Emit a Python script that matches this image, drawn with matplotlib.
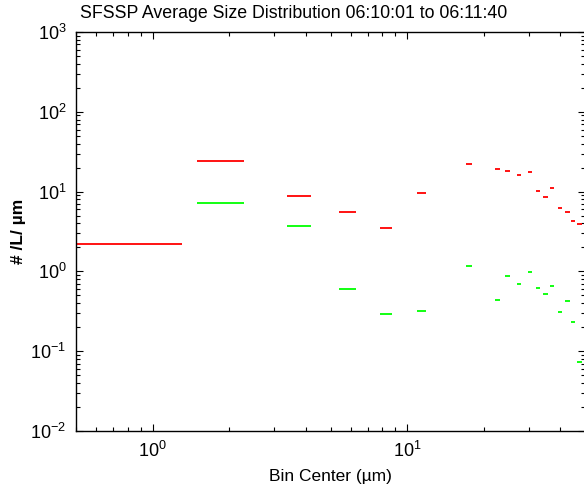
import numpy as np
import matplotlib
matplotlib.use('Agg')
import matplotlib.pyplot as plt
from matplotlib.ticker import LogLocator, NullFormatter

plt.rcParams['font.family'] = ['Liberation Sans', 'DejaVu Sans']
plt.rcParams['mathtext.fontset'] = 'custom'
plt.rcParams['mathtext.rm'] = 'Liberation Sans:bold'
plt.rcParams['mathtext.default'] = 'regular'

# bin edges (um)
binLo = [0.5, 1.49, 3.36, 5.42, 7.86, 10.9, 17.05, 22.2, 24.2, 27.1, 29.9,
         32.1, 34.3, 36.4, 39.3, 41.8, 44.2, 46.6]
binHi = [1.31, 2.29, 4.2, 6.3, 8.76, 11.9, 18.0, 23.2, 25.3, 28.1, 31.0,
         33.3, 35.9, 37.9, 40.7, 43.5, 45.8, 48.8]

# concentrations (#/L/um)
redConc = [2.2, 24.4, 8.9, 5.55, 3.53, 9.5, 22.3, 19.4, 18.1, 16.3, 17.5,
           10.1, 8.56, 11.2, 6.29, 5.55, 4.32, 3.93]
greenConc = [np.nan, 7.26, 3.67, 0.607, 0.29, 0.319, 1.16, 0.441, 0.875, 0.695,
             0.975, 0.625, 0.526, 0.65, 0.307, 0.43, 0.232, 0.074]

TITLE = 'SFSSP Average Size Distribution 06:10:01 to 06:11:40'

fig = plt.figure(figsize=(5.84, 4.90), dpi=100)
ax = fig.add_axes([76 / 584, 59 / 490, 509 / 584, 399 / 490])

ax.hlines(greenConc, binLo, binHi, colors='#00ff00', linewidth=1.3)
ax.hlines(redConc, binLo, binHi, colors='#ff0000', linewidth=1.3)

ax.set_xscale('log')
ax.set_yscale('log')
ax.set_xlim(0.5, 50)
ax.set_ylim(1e-2, 1e3)

ax.yaxis.set_major_locator(LogLocator(base=10, numticks=10))
ax.yaxis.set_minor_locator(LogLocator(base=10, subs=np.arange(2, 10), numticks=20))
ax.yaxis.set_minor_formatter(NullFormatter())
ax.xaxis.set_minor_formatter(NullFormatter())

ax.tick_params(which='both', direction='in', top=True, right=True, width=0.8)
ax.tick_params(which='major', length=5, labelsize=13, pad=7)
ax.tick_params(which='minor', length=3)
for sp in ax.spines.values():
    sp.set_linewidth(1.0)

ax.set_xlabel('Bin Center (\u00b5m)', fontsize=12.5, labelpad=6)
ax.set_ylabel('# /L/ \u00b5m', fontsize=12.5, fontweight='bold', labelpad=3)
fig.text(0.502, 0.972, TITLE, ha='center', va='center', fontsize=12.8)

fig.savefig('out.png', dpi=100)
